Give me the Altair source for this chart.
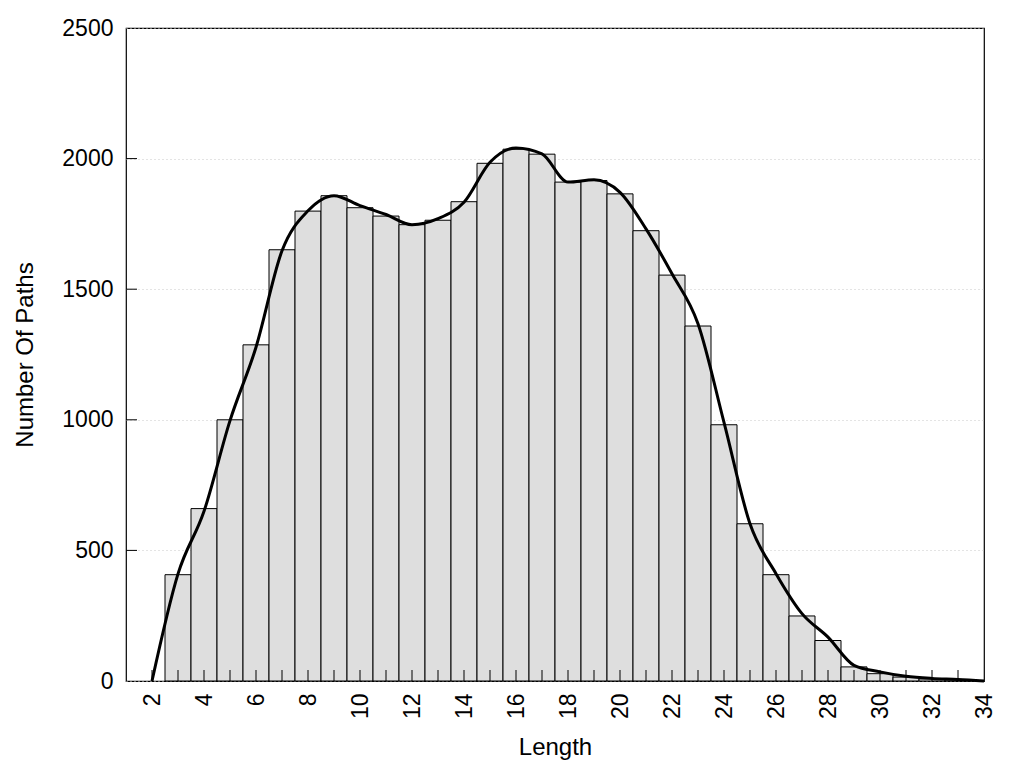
import altair as alt
import pandas as pd

# Histogram bars (path length -> number of paths)
lengths = list(range(3, 34))
counts = [407, 660, 1000, 1287, 1651, 1799, 1858, 1812, 1780, 1747, 1764,
          1835, 1982, 2036, 2017, 1910, 1916, 1865, 1724, 1554, 1359, 981,
          602, 407, 249, 155, 54, 28, 15, 8, 4]

# Smoothed curve
curve_x = list(range(2, 35))
curve_y = [0, 410, 650, 997, 1278, 1647, 1800, 1858, 1820, 1786, 1747, 1770,
           1833, 1986, 2041, 2018, 1910, 1919, 1871, 1731, 1559, 1368, 990,
           602, 411, 258, 168, 60, 35, 18, 10, 6, 0]

x_labels = list(range(2, 35, 2))
x_minor = list(range(2, 34))
y_labels = [0, 500, 1000, 1500, 2000, 2500]
y_minor = [500, 1000, 1500, 2000]

FONT = "Liberation Sans"
W, H = 858, 653

bars_df = pd.DataFrame({"length": lengths, "count": counts})
curve_df = pd.DataFrame({"length": curve_x, "count": curve_y})
xt_df = pd.DataFrame({"t": x_minor})
yt_df = pd.DataFrame({"t": y_minor})

xscale = alt.Scale(domain=[1, 34], nice=False, zero=False)
yscale = alt.Scale(domain=[0, 2500], nice=False)

xaxis = alt.Axis(values=x_labels, title="Length", labelAngle=-90, labelAlign="right",
                 labelBaseline="middle", labelPadding=12, ticks=False, domain=False,
                 grid=False, labelFontSize=23, titleFontSize=24, labelFont=FONT,
                 titleFont=FONT, titleFontWeight="normal", labelColor="black",
                 titleColor="black", titlePadding=17, format="d")
yaxis = alt.Axis(values=y_labels, title="Number Of Paths", labelPadding=13, ticks=False,
                 domain=False, grid=True, gridDash=[1, 3], gridColor="#c8c8c8",
                 gridWidth=1, labelFontSize=23, titleFontSize=24, labelFont=FONT,
                 titleFont=FONT, titleFontWeight="normal", labelColor="black",
                 titleColor="black", titlePadding=24, format="d")

bars = alt.Chart(bars_df).transform_calculate(
    lo="datum.length - 0.5", hi="datum.length + 0.5"
).mark_bar(fill="#dedede", stroke="black", strokeWidth=1).encode(
    x=alt.X("lo:Q", scale=xscale, axis=xaxis),
    x2="hi:Q",
    y=alt.Y("count:Q", scale=yscale, axis=yaxis),
    y2=alt.datum(0),
)

xticks = alt.Chart(xt_df).mark_rule(color="black", strokeWidth=1).encode(
    x=alt.X("t:Q", scale=xscale),
    y=alt.value(H),
    y2=alt.value(H - 11),
)

yticks = alt.Chart(yt_df).mark_rule(color="black", strokeWidth=1).encode(
    y=alt.Y("t:Q", scale=yscale),
    x=alt.value(0),
    x2=alt.value(11),
)

line = alt.Chart(curve_df).mark_line(color="black", strokeWidth=3,
                                     interpolate="monotone").encode(
    x=alt.X("length:Q", scale=xscale),
    y=alt.Y("count:Q", scale=yscale),
)

chart = alt.layer(bars, xticks, yticks, line).properties(
    width=W, height=H,
    autosize=alt.AutoSizeParams(type="none"),
    padding={"left": 118, "top": 20, "right": 30, "bottom": 80},
    background="white",
).configure_view(stroke="black", strokeWidth=1.2)

chart.save("out.html", embed_options={"renderer": "svg", "actions": False})
